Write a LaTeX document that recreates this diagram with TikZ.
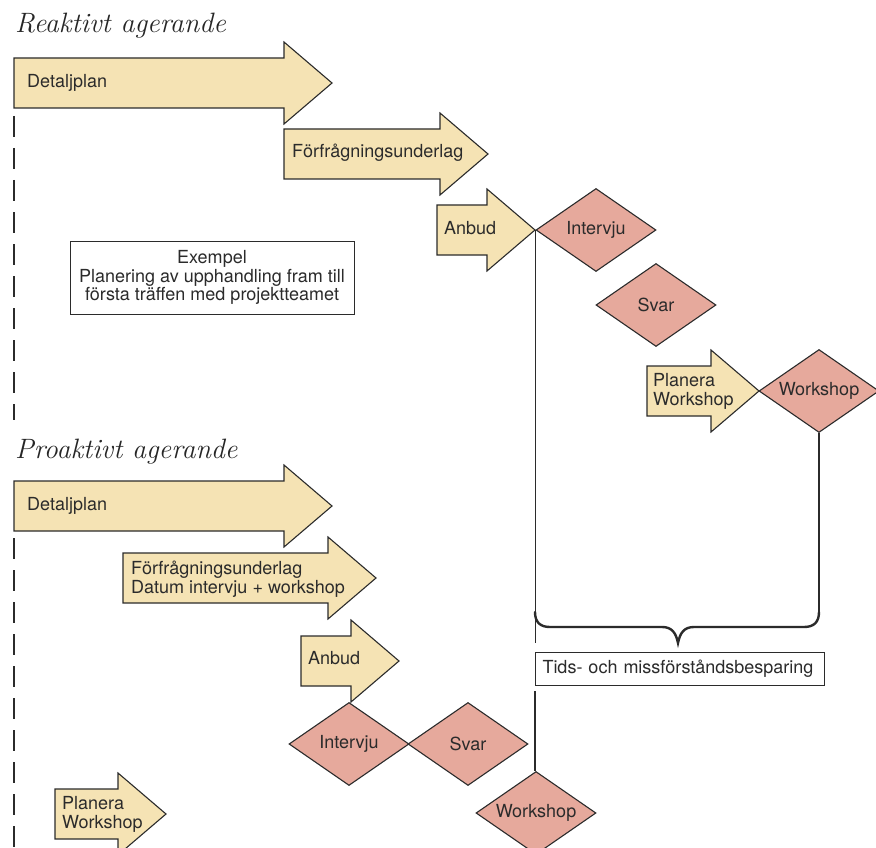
\documentclass[tikz,border=0pt]{standalone}
\usepackage{fontspec}
\setsansfont{TeX Gyre Heros}
\usepackage{tikz}
\usetikzlibrary{shapes.geometric, positioning, calc}
\definecolor{cbeige}{HTML}{F5E3B4}
\definecolor{crosa}{HTML}{E6A99C}
\definecolor{ckant}{HTML}{2B2B2B}

\tikzset{
  pil/.style={fill=cbeige, draw=ckant, line width=1.1pt, line join=miter},
  ruter/.style={diamond, aspect=1.45, minimum width=120pt, minimum height=83pt,
    inner sep=0pt, fill=crosa, draw=ckant, line width=1.1pt},
  etikett/.style={font=\sffamily\fontsize{18}{18.8}\selectfont, text=ckant, inner sep=0pt},
  rubrik/.style={font=\itshape\fontsize{28}{30}\selectfont, text=black!85, inner sep=0pt},
  faktaruta/.style={draw=ckant, line width=1pt, fill=white, font=\sffamily\fontsize{18}{18.8}\selectfont, text=ckant},
  linje/.style={draw=ckant, line width=1.2pt},
  streck/.style={draw=ckant, line width=2.6pt, dash pattern=on 21pt off 11pt},
}

\begin{document}
\begin{tikzpicture}[x=1pt, y=-1pt]
  \useasboundingbox (0,0) rectangle (876,848);

  % rubriker
  \node[rubrik, anchor=base west] (reaktiv) at (15,33) {Reaktivt agerande};
  \node[rubrik, anchor=base west] (proaktiv) at (15,458) {Proaktivt agerande};

  % tidslinjer
  \draw[streck] (14,116) -- (14,420);
  \draw[streck] (14,538) -- (14,848);

  % pilar: vänsterkant / mitt y / huvudets början
  \foreach \x/\y/\h in {14/83/284, 284/154/440, 437/230/487, 647/391/711,
                        14/506/284, 123/578/328, 301/661/351, 55/814/118}{
    \filldraw[pil] (\x,\y-25) -- (\h,\y-25) -- (\h,\y-41) -- (\h+48,\y)
      -- (\h,\y+41) -- (\h,\y+25) -- (\x,\y+25) -- cycle;
  }

  % text i pilarna
  \node[etikett, anchor=base west] (detR) at (27,88) {Detaljplan};
  \node[etikett, anchor=base west] (forR) at (292,158) {Förfrågningsunderlag};
  \node[etikett, anchor=base west] (anbR) at (444,234) {Anbud};
  \node[etikett, anchor=west, align=left] (plaR) at (653,391) {Planera\\Workshop};
  \node[etikett, anchor=base west] (detP) at (27,510) {Detaljplan};
  \node[etikett, anchor=west, align=left] (forP) at (131,579) {Förfrågningsunderlag\\Datum intervju + workshop};
  \node[etikett, anchor=base west] (anbP) at (308,664) {Anbud};
  \node[etikett, anchor=west, align=left] (plaP) at (62,814) {Planera\\Workshop};

  % romber
  \foreach \n/\x/\y/\t in {intR/596/230/Intervju, svarR/656/305/Svar, wsR/819/391/Workshop,
                           intP/349/744/Intervju, svarP/468/744/Svar, wsP/536/813/Workshop}{
    \node[ruter, font=\sffamily\fontsize{18}{18.8}\selectfont, text=ckant] (\n) at (\x,\y) {\t};
  }

  % rutor
  \node[faktaruta, minimum width=284pt, minimum height=73pt, align=center, inner sep=0pt]
    (exempel) at (212,277.5) {Exempel\\Planering av upphandling fram till\\första träffen med projektteamet};
  \node[faktaruta, anchor=north west, text width=275pt, inner xsep=7pt, inner ysep=0pt,
    minimum height=33pt, align=left] (besparing) at (535,652) {Tids- och missförståndsbesparing};

  % klammer
  \coordinate (klamV) at (535,612);
  \coordinate (klamH) at (819,612);
  \draw[linje, shorten >=9pt] (intR.west) -- (intR.west |- besparing.north);
  \draw[linje, shorten <=5pt] (besparing.south west) -- (besparing.south west |- wsP.north);
  \draw[linje] (wsR.south) -- (klamH);
  \draw[ckant, line width=2.4pt, line cap=round] (klamV) .. controls (535,622) and (540,627) .. (550,627)
    -- (662,627) .. controls (672,627) and (676,633) .. (678,643)
    .. controls (680,633) and (684,627) .. (694,627)
    -- (804,627) .. controls (814,627) and (819,622) .. (klamH);
\end{tikzpicture}
\end{document}
